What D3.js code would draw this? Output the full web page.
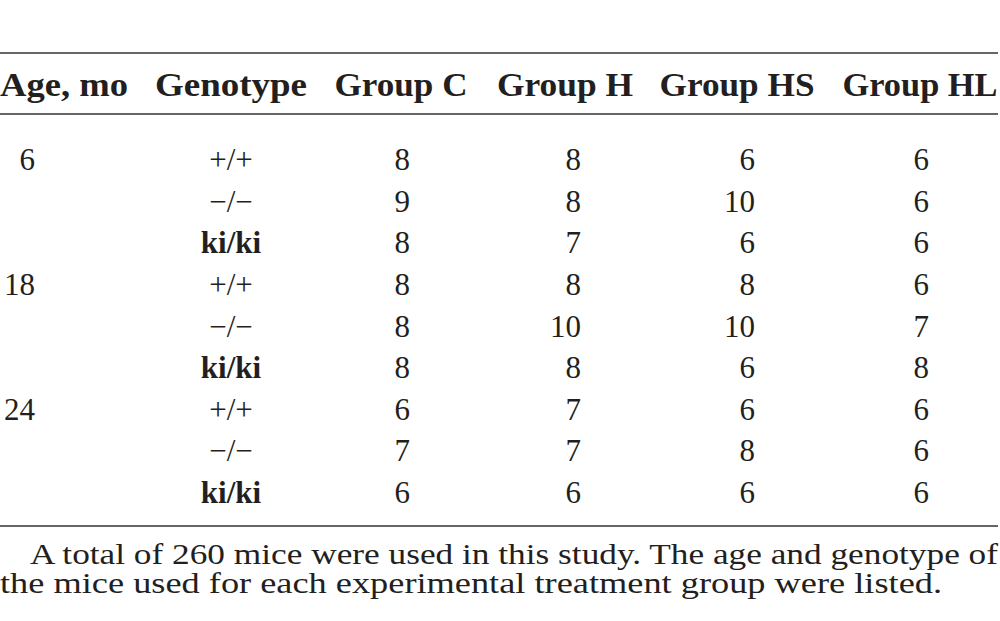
<!DOCTYPE html>
<html>
<head>
<meta charset="utf-8">
<script src="https://cdn.jsdelivr.net/npm/d3@7"></script>
<style>
  body { margin: 0; background: #fff; }
</style>
</head>
<body>
<div id="chart"></div>
<script>
// table data
const columns = ["Age, mo", "Genotype", "Group C", "Group H", "Group HS", "Group HL"];
const ages = ["6", "", "", "18", "", "", "24", "", ""];
const genotypes = ["+/+", "\u2212/\u2212", "ki/ki", "+/+", "\u2212/\u2212", "ki/ki", "+/+", "\u2212/\u2212", "ki/ki"];
const groupC = [8, 9, 8, 8, 8, 8, 6, 7, 6];
const groupH = [8, 8, 7, 8, 10, 8, 7, 7, 6];
const groupHS = [6, 10, 6, 8, 10, 6, 6, 8, 6];
const groupHL = [6, 6, 6, 6, 7, 8, 6, 6, 6];
const footnote = [
  "A total of 260 mice were used in this study. The age and genotype of",
  "the mice used for each experimental treatment group were listed."
];

const width = 1000, height = 621;
const serif = "'Liberation Serif', 'Times New Roman', Tinos, serif";

const svg = d3.select("#chart").append("svg")
  .attr("width", width)
  .attr("height", height)
  .attr("font-family", serif)
  .attr("fill", "#231f20");

// rules
const rules = [53, 114, 526];
svg.selectAll("line.rule").data(rules).enter().append("line")
  .attr("class", "rule")
  .attr("x1", 0).attr("x2", 998)
  .attr("y1", d => d).attr("y2", d => d)
  .attr("stroke", "#333").attr("stroke-width", 1.6);

// header
const headX = [0, 231, 401, 565, 737, 920];
const headW = [128, 152, 133, 136, 155, 155];
svg.selectAll("text.head").data(columns).enter().append("text")
  .attr("class", "head")
  .attr("x", (d, i) => headX[i])
  .attr("y", 96)
  .attr("text-anchor", (d, i) => i == 0 ? "start" : "middle")
  .attr("textLength", (d, i) => headW[i])
  .attr("lengthAdjust", "spacingAndGlyphs")
  .style("font-family", serif)
  .style("font-weight", "bold")
  .style("font-size", "34px")
  .text(d => d);

// rows
const y = d3.scaleLinear().domain([0, ages.length - 1]).range([170, 503]);

const cols = [
  {vals: ages, x: 35, anchor: "end"},
  {vals: genotypes, x: 231, anchor: "middle"},
  {vals: groupC, x: 410, anchor: "end"},
  {vals: groupH, x: 581, anchor: "end"},
  {vals: groupHS, x: 755, anchor: "end"},
  {vals: groupHL, x: 929, anchor: "end"}
];

cols.forEach((c, ci) => {
  svg.append("g").selectAll("text").data(c.vals).enter().append("text")
    .attr("x", c.x)
    .attr("y", (d, i) => y(i))
    .attr("text-anchor", c.anchor)
    .style("font-family", serif)
    .style("font-size", "31px")
    .style("font-weight", d => (d === "ki/ki" ? "bold" : null))
    .text(d => d);
});

// footnote
const noteX = [[30, 968], [0, 942]];
svg.selectAll("text.note").data(footnote).enter().append("text")
  .attr("class", "note")
  .attr("x", (d, i) => noteX[i][0])
  .attr("y", (d, i) => 564 + i * 29)
  .attr("textLength", (d, i) => noteX[i][1])
  .attr("lengthAdjust", "spacingAndGlyphs")
  .style("font-family", serif)
  .style("font-size", "29px")
  .text(d => d);
</script>
</body>
</html>
